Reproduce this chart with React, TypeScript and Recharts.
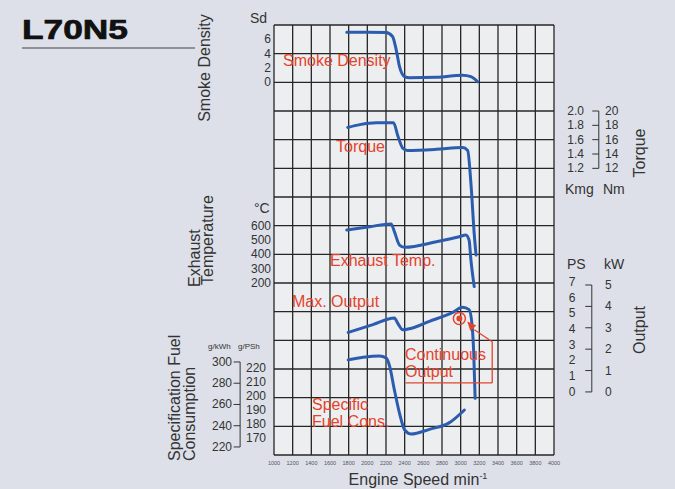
import React from "react";
import {
  CartesianGrid,
  ComposedChart,
  Line,
  ReferenceLine,
  Scatter,
  XAxis,
  YAxis,
} from "recharts";

const FONT = '"Liberation Sans", Arial, Helvetica, sans-serif';
const BLUE = "#2c5cae";
const RED = "#e4432b";
const INK = "#333";

// engine speed grid, min-1
const rpmTicks = [1000, 1200, 1400, 1600, 1800, 2000, 2200, 2400, 2600, 2800, 3000, 3200, 3400, 3600, 3800, 4000];
const gridRows = [0, 1, 2, 3, 4, 5, 6, 7, 8, 9, 10, 11, 12, 13, 14, 15, 16, 17, 18, 19, 20, 21, 22, 23, 24, 25, 26, 27, 28, 29, 30];

// scale labels
const smokeTicks = [0, 2, 4, 6];
const torqueNmTicks = [12, 14, 16, 18, 20];
const torqueKgmTicks = [1.2, 1.4, 1.6, 1.8, 2.0];
const tempTicks = [200, 300, 400, 500, 600];
const kwTicks = [0, 1, 2, 3, 4, 5];
const psTicks = [0, 1, 2, 3, 4, 5, 6, 7];
const gkwhTicks = [220, 240, 260, 280, 300];
const gpshTicks = [170, 180, 190, 200, 210, 220];

// curves
const smokeRpm = [1780, 2000, 2200, 2270, 2310, 2345, 2400, 2450, 2740, 3020, 3110, 3180];
const smokeSd = [7.0, 7.0, 6.95, 6.4, 4.5, 2.2, 0.8, 0.65, 0.7, 1.0, 0.8, 0.1];

const torqueRpm = [1790, 1920, 2100, 2280, 2330, 2380, 2430, 2740, 3020, 3075, 3110, 3145, 3165];
const torqueNm = [17.7, 18.1, 18.35, 18.35, 16.4, 14.8, 14.5, 14.65, 14.9, 14.5, 9.9, 2.9, -0.1];

const tempRpm = [1780, 2025, 2255, 2290, 2345, 2400, 2740, 2985, 3055, 3090, 3110, 3145];
const tempC = [570, 593, 612, 558, 465, 449, 488, 523, 535, 500, 360, 175];

const outputRpm = [1795, 2060, 2290, 2325, 2380, 2435, 2665, 2915, 3020, 3090, 3120, 3140, 3155];
const outputKw = [2.78, 3.15, 3.46, 3.22, 2.91, 2.94, 3.3, 3.72, 3.96, 3.85, 3.22, 1.81, -0.3];

const fuelRpm = [1795, 1955, 2130, 2205, 2240, 2290, 2345, 2400, 2470, 2665, 2880, 3040];
const fuelGkwh = [302, 304.4, 305.6, 303.5, 295.6, 273.6, 251.7, 236, 232.2, 236.6, 242.9, 254.8];

const continuousRpm = [2986];
const continuousKw = [3.43];

const zip = (xs: number[], ys: number[]) => xs.map((rpm, i) => ({ rpm, v: ys[i] }));

// each scale is pinned to the 30-row grid: value v0 on row r0, v1 on row r1 (rows from bottom)
const ROWS = 30;
function domainFor(v0: number, r0: number, v1: number, r1: number): [number, number] {
  const per = (v1 - v0) / (r1 - r0);
  return [v0 - r0 * per, v0 + (ROWS - r0) * per];
}

const smokeDomain = domainFor(0, 26, 6, 29);
const nmDomain = domainFor(12, 20, 20, 24);
const kgmDomain: [number, number] = [nmDomain[0] / 10, nmDomain[1] / 10];
const tempDomain = domainFor(200, 12, 600, 16);
const kwDomain = domainFor(0, 4.4, 5, 11.86);
const psDomain: [number, number] = [kwDomain[0] * 1.36, kwDomain[1] * 1.36];
const gkwhDomain = domainFor(220, 0.56, 300, 6.49);
const gpshDomain = domainFor(170, 1.19, 220, 6.07);

// bracket columns sit outside the grid (in rpm units of the x scale)
const TORQUE_BRACKET = 4480;
const OUTPUT_BRACKET = 4405;
const FUEL_BRACKET = 637;
const TICK_LEN = 70;

const scaleTick =
  (x: number, anchor: "start" | "end" | "middle", fmt?: (v: number) => string) =>
  (p: any) => (
    <text x={x} y={p.y} dy={4} textAnchor={anchor} fontSize={12} fill={INK} fontFamily={FONT}>
      {fmt ? fmt(p.payload.value) : p.payload.value}
    </text>
  );

function bracket(id: string, xr: number, ticks: number[], keyBase: string) {
  const lo = Math.min(...ticks);
  const hi = Math.max(...ticks);
  return [
    <ReferenceLine
      key={keyBase + "-v"}
      yAxisId={id}
      ifOverflow="visible"
      segment={[{ x: xr, y: lo }, { x: xr, y: hi }]}
      stroke={INK}
      strokeWidth={1}
    />,
    ...ticks.map((t) => (
      <ReferenceLine
        key={keyBase + t}
        yAxisId={id}
        ifOverflow="visible"
        segment={[{ x: xr - TICK_LEN, y: t }, { x: xr, y: t }]}
        stroke={INK}
        strokeWidth={1}
      />
    )),
  ];
}

const ContinuousDot = (p: any) => (
  <g>
    <circle cx={p.cx} cy={p.cy} r={6} fill="none" stroke={RED} strokeWidth={1.5} />
    <circle cx={p.cx} cy={p.cy} r={3} fill={RED} />
  </g>
);

const ArrowHead = (p: any) => (
  <polygon
    points={`${p.cx},${p.cy} ${p.cx + 9},${p.cy + 4} ${p.cx + 3},${p.cy + 9.5}`}
    fill={RED}
  />
);

const seriesLine = (id: string, data: { rpm: number; v: number }[]) => (
  <Line
    yAxisId={id}
    data={data}
    dataKey="v"
    type="monotone"
    stroke={BLUE}
    strokeWidth={3}
    strokeLinecap="round"
    dot={false}
    activeDot={false}
    isAnimationActive={false}
  />
);

// label-only axes: one pixel wide each, four per side
const labelAxis = (
  id: string,
  side: "left" | "right",
  domain: [number, number],
  ticks: number[],
  tick: (p: any) => React.ReactElement
) => (
  <YAxis
    yAxisId={id}
    orientation={side}
    domain={domain}
    ticks={ticks}
    allowDataOverflow
    interval={0}
    width={1}
    axisLine={false}
    tickLine={false}
    tick={tick}
  />
);

const redText = { fill: RED, fontSize: 16, fontFamily: FONT };
const inkText = { fill: INK, fontFamily: FONT };

export default function App() {
  return (
    <div style={{ position: "relative", width: 675, height: 489, background: "#dde0e9" }}>
      <style>{"body{margin:0}"}</style>
      <ComposedChart
        width={675}
        height={489}
        margin={{ top: 25, right: 117, bottom: 22, left: 270 }}
        style={{ fontFamily: FONT }}
      >
        <CartesianGrid
          yAxisId="grid"
          fill="#eceef0"
          fillOpacity={1}
          stroke="#262626"
          strokeWidth={1.3}
        />
        <XAxis
          dataKey="rpm"
          type="number"
          domain={[1000, 4000]}
          allowDataOverflow
          ticks={rpmTicks}
          interval={0}
          height={12}
          tickSize={4}
          axisLine={false}
          tickLine={false}
          tick={{ fontSize: 5.5, fill: "#555" }}
        />
        <YAxis yAxisId="grid" domain={[0, 30]} ticks={gridRows} allowDataOverflow hide />
        {labelAxis("smoke", "left", smokeDomain, smokeTicks, scaleTick(271, "end"))}
        {labelAxis("temp", "left", tempDomain, tempTicks, scaleTick(271, "end"))}
        {labelAxis("gkwh", "left", gkwhDomain, gkwhTicks, scaleTick(232, "end"))}
        {labelAxis("gpsh", "left", gpshDomain, gpshTicks, scaleTick(246, "start"))}
        {labelAxis("nm", "right", nmDomain, torqueNmTicks, scaleTick(605, "start"))}
        {labelAxis("kgm", "right", kgmDomain, torqueKgmTicks, scaleTick(584, "end", (v) => v.toFixed(1)))}
        {labelAxis("kw", "right", kwDomain, kwTicks, scaleTick(605, "start"))}
        {labelAxis("ps", "right", psDomain, psTicks, scaleTick(572, "middle"))}

        {bracket("nm", TORQUE_BRACKET, torqueNmTicks, "tq")}
        {bracket("kw", OUTPUT_BRACKET, kwTicks, "kw")}
        {bracket("gkwh", FUEL_BRACKET, gkwhTicks, "fc")}

        {seriesLine("smoke", zip(smokeRpm, smokeSd))}
        {seriesLine("nm", zip(torqueRpm, torqueNm))}
        {seriesLine("temp", zip(tempRpm, tempC))}
        {seriesLine("kw", zip(outputRpm, outputKw))}
        {seriesLine("gkwh", zip(fuelRpm, fuelGkwh))}

        {/* continuous output callout */}
        <ReferenceLine yAxisId="kw" ifOverflow="visible" segment={[{ x: 3146, y: 2.91 }, { x: 3338, y: 2.35 }]} stroke={RED} strokeWidth={1.3} />
        <ReferenceLine yAxisId="kw" ifOverflow="visible" segment={[{ x: 3338, y: 2.35 }, { x: 3338, y: 0.42 }]} stroke={RED} strokeWidth={1.3} />
        <ReferenceLine yAxisId="kw" ifOverflow="visible" segment={[{ x: 3338, y: 0.42 }, { x: 2409, y: 0.42 }]} stroke={RED} strokeWidth={1.3} />
        <Scatter yAxisId="kw" data={zip([3071], [3.29])} dataKey="v" shape={ArrowHead} isAnimationActive={false} />
        <Scatter yAxisId="kw" data={zip(continuousRpm, continuousKw)} dataKey="v" shape={ContinuousDot} isAnimationActive={false} />
      </ComposedChart>

      <svg
        width={675}
        height={489}
        style={{ position: "absolute", left: 0, top: 0, pointerEvents: "none" }}
      >
        <text x={22} y={39} fontSize={27} fontWeight="bold" fill="#111" stroke="#111" strokeWidth={0.7} fontFamily={FONT} textLength={106} lengthAdjust="spacingAndGlyphs">
          L70N5
        </text>
        <line x1={22} y1={48} x2={195} y2={48} stroke="#777" strokeWidth={1.5} />

        <text transform="translate(210,68) rotate(-90)" textAnchor="middle" fontSize={16} {...inkText}>Smoke Density</text>
        <text transform="translate(200,287) rotate(-90)" fontSize={16} {...inkText}>Exhaust</text>
        <text transform="translate(213,285) rotate(-90)" fontSize={16} {...inkText}>Temperature</text>
        <text transform="translate(180,461) rotate(-90)" fontSize={16} {...inkText}>Specification Fuel</text>
        <text transform="translate(195,461) rotate(-90)" fontSize={16} {...inkText}>Consumption</text>
        <text transform="translate(645,153) rotate(-90)" textAnchor="middle" fontSize={16} {...inkText}>Torque</text>
        <text transform="translate(645,330) rotate(-90)" textAnchor="middle" fontSize={16} {...inkText}>Output</text>

        <text x={250} y={23} fontSize={14} {...inkText}>Sd</text>
        <text x={254} y={213} fontSize={14} {...inkText}>°C</text>
        <text x={565} y={194} fontSize={14} {...inkText}>Kmg</text>
        <text x={603} y={194} fontSize={14} {...inkText}>Nm</text>
        <text x={567} y={269} fontSize={14} {...inkText}>PS</text>
        <text x={604} y={269} fontSize={14} {...inkText}>kW</text>
        <text x={208} y={349} fontSize={8} {...inkText}>g/kWh</text>
        <text x={238} y={349} fontSize={8} {...inkText}>g/PSh</text>

        <text x={283} y={66} {...redText}>Smoke Density</text>
        <text x={336} y={152} {...redText}>Torque</text>
        <text x={330} y={266} {...redText}>Exhaust Temp.</text>
        <text x={292} y={307} {...redText}>Max. Output</text>
        <text x={405} y={360} {...redText}>Continuous</text>
        <text x={405} y={377} {...redText}>Output</text>
        <text x={312} y={410} {...redText}>Specific</text>
        <text x={312} y={427} {...redText}>Fuel Cons.</text>

        <text x={418} y={485} textAnchor="middle" fontSize={16} {...inkText}>
          Engine Speed min<tspan dy={-6} fontSize={9}>-1</tspan>
        </text>
      </svg>
    </div>
  );
}
